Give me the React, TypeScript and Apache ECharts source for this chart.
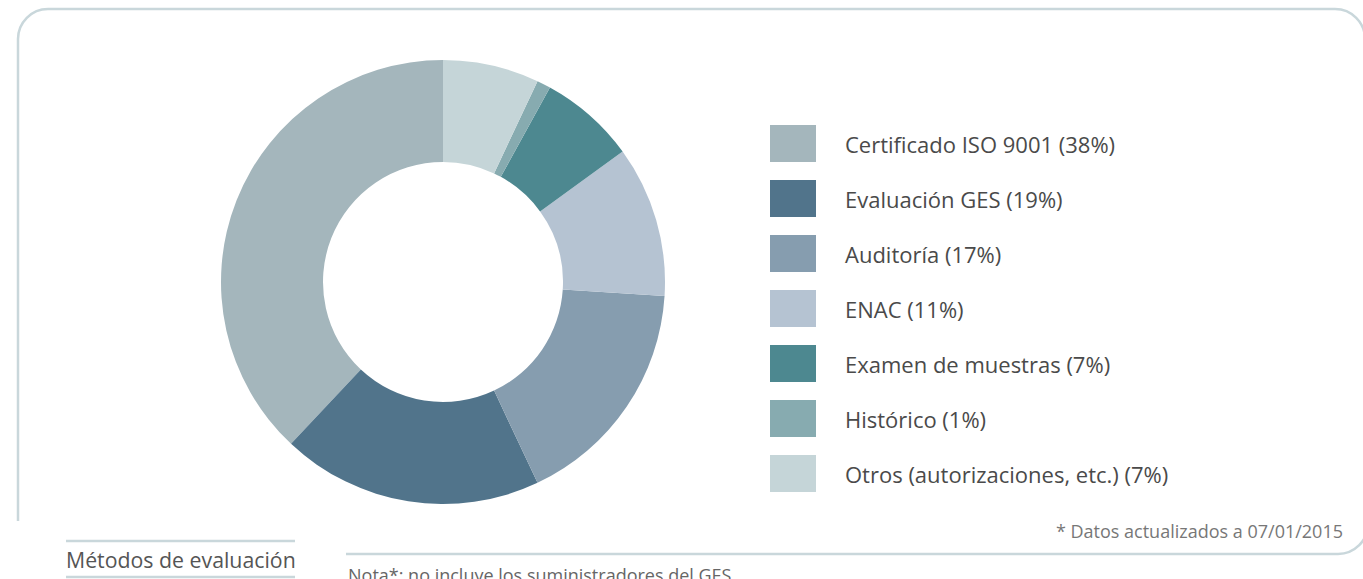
import React, { useEffect, useRef } from "react";
import * as echarts from "echarts";

const categories = [
  "Certificado ISO 9001",
  "Evaluación GES",
  "Auditoría",
  "ENAC",
  "Examen de muestras",
  "Histórico",
  "Otros (autorizaciones, etc.)",
];
const values = [38, 19, 17, 11, 7, 1, 7];
const colors = ["#a4b6bc", "#51748b", "#869daf", "#b5c3d2", "#4d8890", "#87abb0", "#c5d5d8"];

const FONT = "'Open Sans', 'Noto Sans', sans-serif";
const FRAME = "#c9d7db";

export default function App() {
  const ref = useRef<HTMLDivElement>(null);
  useEffect(() => {
    if (!ref.current) return;
    const chart = echarts.init(ref.current, undefined, { renderer: "svg" });
    const line = (x1: number, y1: number, x2: number, y2: number) => ({
      type: "line",
      shape: { x1, y1, x2, y2 },
      style: { stroke: FRAME, lineWidth: 2.5 },
      silent: true,
    });
    const arc = (cx: number, cy: number, r: number, s: number, e: number) => ({
      type: "arc",
      shape: { cx, cy, r, startAngle: s, endAngle: e, clockwise: true },
      style: { stroke: FRAME, lineWidth: 2.5, fill: "none" },
      silent: true,
    });
    chart.setOption({
      animation: false,
      backgroundColor: "#ffffff",
      color: colors,
      legend: {
        orient: "vertical",
        left: 770,
        top: 125,
        padding: 0,
        itemWidth: 46,
        itemHeight: 37,
        itemGap: 18,
        icon: "rect",
        selectedMode: false,
        formatter: (name: string) => {
          const i = categories.indexOf(name);
          return `${name} (${values[i]}%)`;
        },
        textStyle: {
          fontFamily: FONT,
          fontSize: 22,
          color: "#4a4a4a",
          padding: [0, 0, 2, 24],
        },
        data: categories,
      },
      series: [
        {
          type: "pie",
          center: [443, 282],
          radius: [120, 222],
          startAngle: 90,
          clockwise: false,
          label: { show: false },
          labelLine: { show: false },
          emphasis: { disabled: true },
          itemStyle: { borderWidth: 0 },
          data: categories.map((c, i) => ({ name: c, value: values[i] })),
        },
      ],
      graphic: [
        arc(48, 39, 30, Math.PI, Math.PI * 1.5),
        line(48, 9, 1335, 9),
        arc(1335, 39, 30, Math.PI * 1.5, Math.PI * 2),
        line(18, 39, 18, 521),
        line(346, 554, 1338, 554),
        arc(1338, 524, 30, 0, Math.PI / 2),
        line(66, 541, 295, 541),
        line(66, 577, 295, 577),
        {
          type: "text",
          x: 66,
          y: 559,
          style: {
            text: "Métodos de evaluación",
            font: `21.3px ${FONT}`,
            fill: "#555555",
            textVerticalAlign: "middle",
          },
        },
        {
          type: "text",
          x: 1343,
          y: 531,
          style: {
            text: "* Datos actualizados a 07/01/2015",
            font: `18px ${FONT}`,
            fill: "#777777",
            textAlign: "right",
            textVerticalAlign: "middle",
          },
        },
        {
          type: "text",
          x: 348,
          y: 575,
          style: {
            text: "Nota*: no incluye los suministradores del GES",
            font: `18px ${FONT}`,
            fill: "#666666",
            textVerticalAlign: "middle",
          },
        },
      ],
    });
    return () => chart.dispose();
  }, []);
  return (
    <div
      ref={ref}
      style={{ position: "fixed", left: 0, top: 0, width: 1363, height: 579 }}
    />
  );
}
